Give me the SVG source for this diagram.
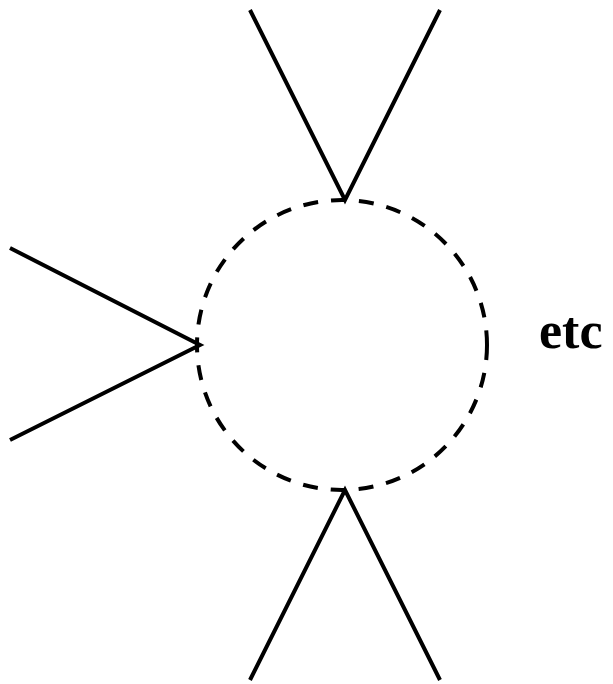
<svg xmlns="http://www.w3.org/2000/svg" width="613" height="684" viewBox="0 0 613 684">
<style>
.ln{fill:none;stroke:#000;stroke-width:4;stroke-linejoin:miter}
.circ{fill:none;stroke:#000;stroke-width:4;stroke-dasharray:15 13}
.lbl{font-family:"Liberation Serif",serif;font-weight:bold;font-size:52px;fill:#000}
</style>
<rect width="613" height="684" fill="#fff"/>
<g id="vertex">
<circle class="circ" cx="342" cy="345" r="145"/>
</g>
<g id="connectors">
<polyline class="ln" points="250,10 345,200 440,10"/>
<polyline class="ln" points="10,248 200,345 10,440"/>
<polyline class="ln" points="250,680 345,490 440,680"/>
</g>
<g id="label">
<text class="lbl" x="539" y="348">etc</text>
</g>
</svg>
